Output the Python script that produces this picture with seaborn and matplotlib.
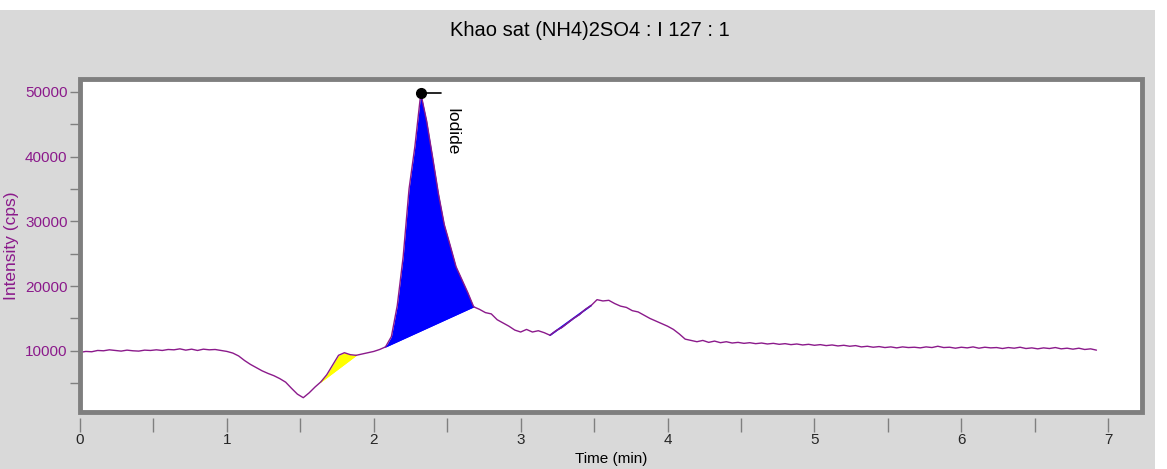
import numpy as np
import pandas as pd
import matplotlib
matplotlib.use("Agg")
import matplotlib.pyplot as plt
from matplotlib.patches import Rectangle
from matplotlib import font_manager
import seaborn as sns

# ---------------- data ----------------
title = "Khao sat (NH4)2SO4 : I 127 : 1"
x_label = "Time (min)"
y_label = "Intensity (cps)"
peak_name = "Iodide"
peak_time = 2.32
peak_value = 49800

time_step = 0.04
intensity = [
    9750, 9900, 9850, 10050, 10000, 10150, 10050, 9950, 10100, 10000,
    9950, 10100, 10050, 10150, 10050, 10200, 10150, 10300, 10100, 10250,
    10050, 10250, 10150, 10200, 10050, 9900, 9650, 9200, 8500, 7900,
    7400, 6900, 6500, 6150, 5700, 5150, 4200, 3300, 2750, 3500,
    4400, 5200, 6300, 7800, 9300, 9700, 9400, 9300, 9500, 9700,
    9900, 10200, 10600, 12200, 17000, 24500, 35000, 41600, 49800, 45500,
    40000, 34300, 29500, 26300, 23000, 21000, 19000, 16800, 16400, 15900,
    15700, 14800, 14300, 13800, 13200, 12900, 13300, 12900, 13100, 12800,
    12400, 13100, 13600, 14300, 15000, 15600, 16400, 17000, 17900, 17700,
    17800, 17300, 16900, 16700, 16200, 16000, 15500, 15000, 14600, 14200,
    13800, 13300, 12600, 11800, 11600, 11400, 11600, 11300, 11500, 11250,
    11400, 11200, 11300, 11150, 11250, 11100, 11200, 11050, 11150, 11000,
    11100, 10950, 11050, 10900, 11000, 10850, 10950, 10800, 10900, 10750,
    10850, 10700, 10800, 10600, 10700, 10550, 10650, 10500, 10600, 10450,
    10600, 10500, 10550, 10450, 10600, 10500, 10700, 10500, 10550, 10400,
    10550, 10450, 10600, 10400, 10550, 10450, 10500, 10350, 10500, 10400,
    10550, 10350, 10450, 10300, 10450, 10350, 10500, 10300, 10400, 10250,
    10400, 10200, 10300, 10100,
]
time = np.round(np.arange(len(intensity)) * time_step, 2)

# integration windows (start, end) in minutes and fill colours
windows = [(1.64, 1.88), (2.08, 2.68), (3.20, 3.48)]
window_colors = ["#ffff00", "#0000ff", "#0000ff"]

x_major = [0, 1, 2, 3, 4, 5, 6, 7]
y_major = [10000, 20000, 30000, 40000, 50000]

df = pd.DataFrame({"time": time, "intensity": intensity})

# ---------------- style ----------------
sns.set_theme(style="white")
names = {f.name for f in font_manager.fontManager.ttflist}
narrow = "Liberation Sans Narrow" if "Liberation Sans Narrow" in names else "Liberation Sans"
plt.rcParams["font.family"] = ["Liberation Sans", "DejaVu Sans"]

purple = "#8b1a8b"
gray_bg = "#d9d9d9"
frame_gray = "#7f7f7f"

W, H = 1167, 469
fig = plt.figure(figsize=(W / 100, H / 100), dpi=100, facecolor=gray_bg)
# white strips at top and right edge
fig.patches.append(Rectangle((0, (H - 10) / H), 1, 10 / H, transform=fig.transFigure,
                             fc="white", ec="none", zorder=0))
fig.patches.append(Rectangle(((W - 12) / W, 0), 12 / W, 1, transform=fig.transFigure,
                             fc="white", ec="none", zorder=0))

ax = fig.add_axes([80 / W, (H - 412) / H, (1142 - 80) / W, (412 - 79) / H])
ax.set_facecolor("white")

# integration fills
t_arr = df["time"].to_numpy()
i_arr = df["intensity"].to_numpy()
for (t0, t1), c in zip(windows, window_colors):
    m = (t_arr >= t0 - 1e-9) & (t_arr <= t1 + 1e-9)
    tt = t_arr[m]
    yy = i_arr[m]
    base = np.interp(tt, [tt[0], tt[-1]], [yy[0], yy[-1]])
    ax.fill_between(tt, base, yy, color=c, lw=0, zorder=2)
    ax.plot([tt[0], tt[-1]], [yy[0], yy[-1]], color=c, lw=1.2, zorder=2)

sns.lineplot(data=df, x="time", y="intensity", ax=ax, color=purple, lw=1.0,
             zorder=3, estimator=None)

# peak marker and label
ax.plot([peak_time, peak_time + 0.135], [peak_value, peak_value], color="black", lw=1.2, zorder=4)
ax.plot([peak_time], [peak_value], "o", color="black", ms=7, zorder=5)
ax.text(peak_time + 0.21, peak_value - 2300, peak_name, rotation=-90, ha="center", va="top",
        fontsize=12.5, color="black", family=["Liberation Sans", "DejaVu Sans"])

ax.set_xlim(0, 7.23)
ax.set_ylim(540, 52000)

# frame
for s in ax.spines.values():
    s.set_visible(False)
ax.add_patch(Rectangle((0, 0), 1, 1, transform=ax.transAxes, fill=False,
                       ec=frame_gray, lw=3.5, clip_on=False, zorder=10))
ax.spines["bottom"].set_visible(True)
ax.spines["bottom"].set_color("none")
ax.spines["bottom"].set_position(("outward", 4))

ax.set_xticks(x_major)
ax.set_xticks([0.5, 1.5, 2.5, 3.5, 4.5, 5.5, 6.5], minor=True)
ax.set_xticklabels([str(v) for v in x_major], family=[narrow, "DejaVu Sans"], fontsize=11)
ax.set_yticks(y_major)
ax.set_yticks([5000, 15000, 25000, 35000, 45000], minor=True)
ax.set_yticklabels([str(v) for v in y_major], fontsize=11, color=purple)

ax.tick_params(axis="x", which="both", direction="out", length=10, width=1,
               color=frame_gray, pad=1, bottom=True)
ax.tick_params(axis="y", which="both", direction="out", length=7, width=1,
               color=frame_gray, pad=2, left=True)

ax.set_xlabel("")
ax.set_ylabel(y_label, fontsize=12.5, color=purple, labelpad=4)
fig.text(611 / W, 1 - 459 / H, x_label, ha="center", va="center",
         family=[narrow, "DejaVu Sans"], fontsize=11, color="black")

fig.text(590 / W, 1 - 30 / H, title, ha="center", va="center", fontsize=14.5, color="black")

fig.savefig("out.png", dpi=100, facecolor=gray_bg)
